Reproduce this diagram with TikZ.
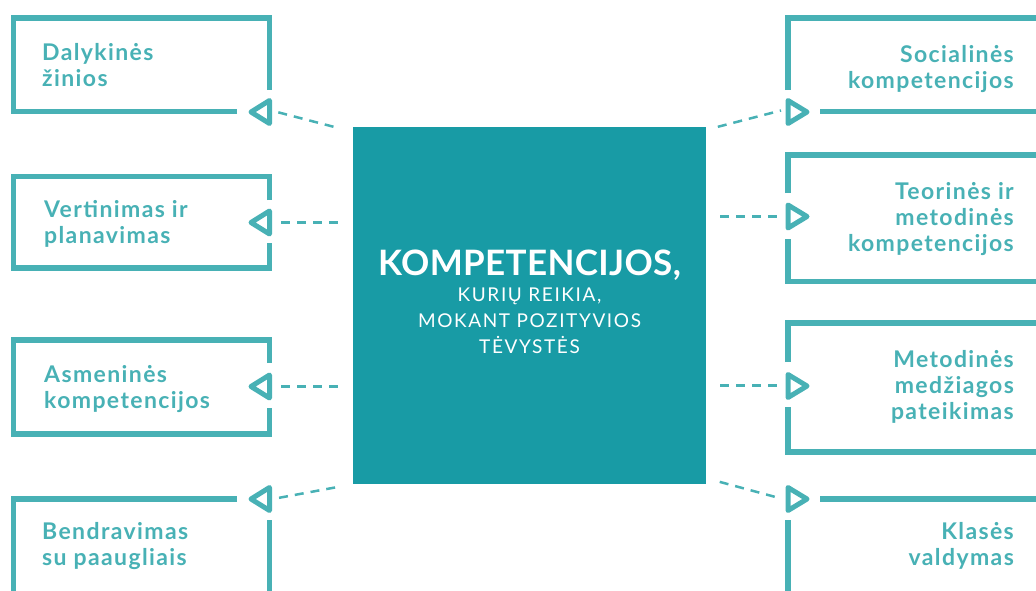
\documentclass[tikz,border=0pt]{standalone}
\usepackage{fontspec}
\setmainfont{Lato}
\newfontfamily\boxfont{Lato}[LetterSpace=6]
\newfontfamily\corefont{Lato}[LetterSpace=8.5]
\newfontfamily\headfont{Lato}[LetterSpace=1]
\usepackage{xcolor}
\usetikzlibrary{calc}
\definecolor{tealline}{HTML}{48B1B5}
\definecolor{tealcore}{HTML}{189BA5}

\begin{document}
\begin{tikzpicture}[x=1pt, y=-1pt]
    \tikzstyle{frame} = [draw=tealline, line width=5.5pt]
    \tikzstyle{tri} = [draw=tealline, line width=5pt, line join=round]
    \tikzstyle{link} = [draw=tealline, line width=2.5pt, dash pattern=on 9pt off 7pt]
    \tikzstyle{lbl} = [text=tealline, inner sep=0pt, font=\boxfont\bfseries\fontsize{23}{26}\selectfont]
    \tikzstyle{core} = [fill=tealcore, minimum width=353pt, minimum height=357pt, inner sep=0pt, text depth=8pt, text=white, align=center, font=\corefont\fontsize{19}{26}\selectfont]

    \useasboundingbox (0,0) rectangle (1036,590);
    \clip (0,0) rectangle (1036,590);

    \node[core] (ctr) at (529.5,305.5) {{\headfont\fontsize{35}{26}\selectfont\bfseries KOMPETENCIJOS,}\\KURIŲ REIKIA,\\MOKANT POZITYVIOS\\TĖVYSTĖS};

    % left column
    \draw[frame] (237,111.5) -- (13.5,111.5) -- (13.5,18) -- (269.5,18) -- (269.5,90);
    \draw[tri] (269.5,100.5) -- (251,112) -- (269.5,123.5) -- cycle;
    \node[lbl, anchor=north west, align=left] (dal) at (42,43) {Dalykinės\\žinios};

    \draw[frame] (269.5,200) -- (269.5,176.5) -- (13.5,176.5) -- (13.5,268) -- (269.5,268) -- (269.5,243);
    \draw[tri] (269.5,211) -- (251,222.5) -- (269.5,234) -- cycle;
    \node[lbl, anchor=north west, align=left] (ver) at (44,200) {Vertinimas ir\\planavimas};

    \draw[frame] (269.5,363) -- (269.5,340) -- (13.5,340) -- (13.5,434) -- (269.5,434) -- (269.5,408);
    \draw[tri] (269.5,375) -- (251,386.5) -- (269.5,398) -- cycle;
    \node[lbl, anchor=north west, align=left] (asm) at (44,365) {Asmeninės\\kompetencijos};

    \draw[frame] (237,499) -- (13.5,499) -- (13.5,600);
    \draw[frame] (269.5,520) -- (269.5,600);
    \draw[tri] (269.5,487.5) -- (251,499) -- (269.5,510.5) -- cycle;
    \node[lbl, anchor=north west, align=left] (ben) at (42,522) {Bendravimas\\su paaugliais};

    % right column
    \draw[frame] (788,90) -- (788,18) -- (1040,18);
    \draw[frame] (820,111.5) -- (1040,111.5);
    \draw[tri] (788,100.5) -- (807,112) -- (788,123.5) -- cycle;
    \node[lbl, anchor=north east, align=right] (soc) at (1014,45) {Socialinės\\kompetencijos};

    \draw[frame] (788,193) -- (788,155) -- (1040,155);
    \draw[frame] (788,239) -- (788,281.5) -- (1040,281.5);
    \draw[tri] (788,205) -- (807,216.5) -- (788,228) -- cycle;
    \node[lbl, anchor=north east, align=right] (teo) at (1014,182) {Teorinės ir\\metodinės\\kompetencijos};

    \draw[frame] (788,362) -- (788,323) -- (1040,323);
    \draw[frame] (788,407) -- (788,452) -- (1040,452);
    \draw[tri] (788,374.5) -- (807,386) -- (788,397.5) -- cycle;
    \node[lbl, anchor=north east, align=right] (met) at (1014,350) {Metodinės\\medžiagos\\pateikimas};

    \draw[frame] (820,499) -- (1040,499);
    \draw[frame] (788,520) -- (788,600);
    \draw[tri] (788,487.5) -- (807,499) -- (788,510.5) -- cycle;
    \node[lbl, anchor=north east, align=right] (kla) at (1014,522) {Klasės\\valdymas};

    % connectors
    \coordinate (e1) at (277,112);
    \coordinate (e2) at (278,222.5);
    \coordinate (e3) at (278,386.5);
    \coordinate (e4) at (278,498);
    \coordinate (f1) at (781,110.5);
    \coordinate (f2) at (781,216.5);
    \coordinate (f3) at (781,385.5);
    \coordinate (f4) at (781,498.5);

    \draw[link, shorten <=20pt] ($(ctr.north west)+(0,5)$) -- (e1);
    \draw[link, shorten <=15pt] (ctr.west |- e2) -- (e2);
    \draw[link, shorten <=15pt] (ctr.west |- e3) -- (e3);
    \draw[link, shorten <=18pt] (ctr.south west) -- (e4);
    \draw[link, shorten <=12pt] ($(ctr.north east)+(0,3)$) -- (f1);
    \draw[link, shorten <=14pt] (ctr.east |- f2) -- (f2);
    \draw[link, shorten <=14pt] (ctr.east |- f3) -- (f3);
    \draw[link, shorten <=14pt] ($(ctr.south east)+(0,-6)$) -- (f4);
\end{tikzpicture}
\end{document}
